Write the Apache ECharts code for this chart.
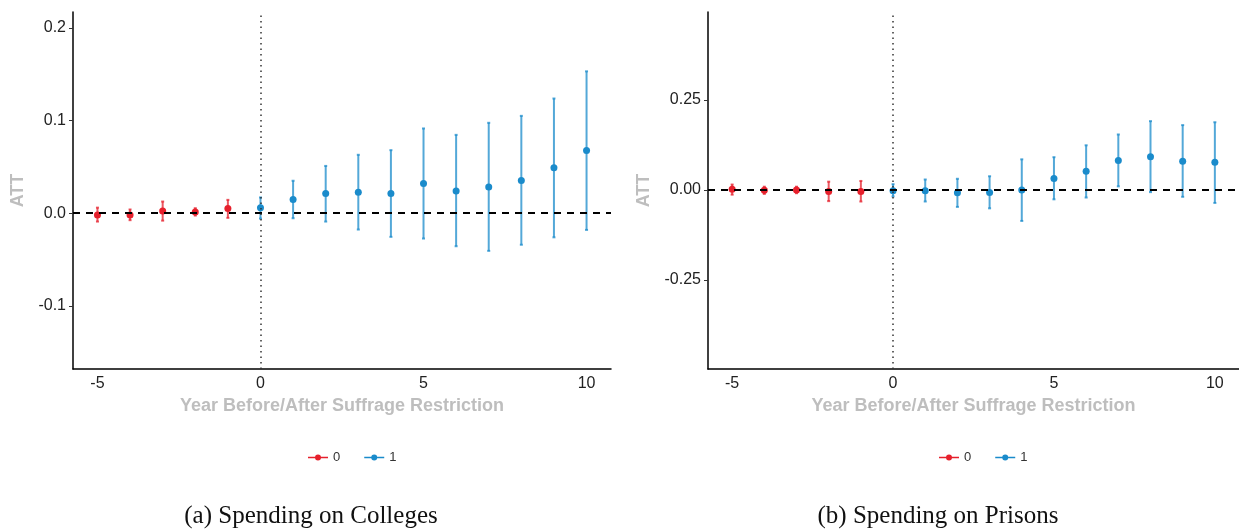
<!DOCTYPE html>
<html>
<head>
<meta charset="utf-8">
<script src="https://cdn.jsdelivr.net/npm/echarts@6/dist/echarts.min.js"></script>
<style>
  html, body { margin: 0; padding: 0; background: #fff; }
  #chart { width: 1239px; height: 529px; }
</style>
</head>
<body>
<div id="chart"></div>
<script>
// event-study estimates
const years = [-5, -4, -3, -2, -1, 0, 1, 2, 3, 4, 5, 6, 7, 8, 9, 10];
const xTicks = [-5, 0, 5, 10];

const collegesEst = [-0.002, -0.002, 0.0025, 0.0014, 0.005, 0.006, 0.0147, 0.0212, 0.0227, 0.0212, 0.032, 0.024, 0.0284, 0.0353, 0.049, 0.0676];
const collegesLo = [-0.009, -0.0075, -0.008, -0.0025, -0.005, -0.0058, -0.0054, -0.009, -0.0176, -0.0255, -0.0273, -0.0356, -0.0406, -0.034, -0.026, -0.018];
const collegesHi = [0.006, 0.004, 0.0126, 0.0054, 0.0144, 0.017, 0.035, 0.051, 0.063, 0.068, 0.0914, 0.0845, 0.0975, 0.105, 0.1237, 0.153];
const collegesTicks = [-0.1, 0, 0.1, 0.2];

const prisonsEst = [0.002, -0.001, 0, -0.004, -0.004, -0.002, -0.002, -0.008, -0.007, 0, 0.032, 0.052, 0.082, 0.092, 0.08, 0.077];
const prisonsLo = [-0.013, -0.011, -0.009, -0.031, -0.032, -0.018, -0.032, -0.047, -0.051, -0.086, -0.026, -0.021, 0.01, -0.006, -0.019, -0.036];
const prisonsHi = [0.015, 0.009, 0.009, 0.023, 0.025, 0.016, 0.029, 0.031, 0.038, 0.085, 0.091, 0.124, 0.154, 0.191, 0.18, 0.188];
const prisonsTicks = [-0.25, 0, 0.25];

const RED = "#E6202C";
const BLUE = "#1A8BCB";
const FONT = "Liberation Sans";

let chart = echarts.init(document.getElementById("chart"));

function pts(est, pre) {
  let out = [];
  years.forEach((y, i) => {
    if ((y < 0) === pre) out.push([y, est[i]]);
  });
  return out;
}
function bars(lo, hi, pre) {
  let out = [];
  years.forEach((y, i) => {
    if ((y < 0) === pre) out.push([y, lo[i], hi[i]]);
  });
  return out;
}

function renderErr(params, api) {
  let x = api.value(0);
  let top = api.coord([x, api.value(2)]);
  let bot = api.coord([x, api.value(1)]);
  let st = { stroke: api.visual("color"), lineWidth: 2, opacity: 0.75 };
  return {
    type: "group",
    children: [
      { type: "line", shape: { x1: top[0], y1: top[1], x2: bot[0], y2: bot[1] }, style: st },
      { type: "line", shape: { x1: top[0] - 1.5, y1: top[1], x2: top[0] + 1.5, y2: top[1] }, style: st },
      { type: "line", shape: { x1: bot[0] - 1.5, y1: bot[1], x2: bot[0] + 1.5, y2: bot[1] }, style: st },
    ],
  };
}

function panelSeries(idx, est, lo, hi) {
  let refLines = {
    silent: true,
    symbol: "none",
    label: { show: false },
    data: [
      { yAxis: 0, lineStyle: { color: "#000", width: 2, type: [7, 6] } },
      { xAxis: 0, lineStyle: { color: "#333", width: 1.5, type: [1.5, 4] } },
    ],
  };
  return [
    { name: "0", type: "custom", xAxisIndex: idx, yAxisIndex: idx, renderItem: renderErr, itemStyle: { color: RED }, data: bars(lo, hi, true), z: 3 },
    { name: "1", type: "custom", xAxisIndex: idx, yAxisIndex: idx, renderItem: renderErr, itemStyle: { color: BLUE }, data: bars(lo, hi, false), z: 3 },
    { name: "0", type: "scatter", xAxisIndex: idx, yAxisIndex: idx, symbolSize: 7, itemStyle: { color: RED, opacity: 1 }, data: pts(est, true), z: 4, markLine: refLines },
    { name: "1", type: "scatter", xAxisIndex: idx, yAxisIndex: idx, symbolSize: 7, itemStyle: { color: BLUE, opacity: 1 }, data: pts(est, false), z: 4 },
  ];
}

function xAxisFor(idx) {
  return {
    type: "value",
    gridIndex: idx,
    min: -5.75,
    max: 10.75,
    splitLine: { show: false },
    axisLine: { onZero: false, lineStyle: { color: "#000", width: 1.5 } },
    axisTick: { show: false },
    axisLabel: { customValues: xTicks, color: "#222", fontSize: 16, fontFamily: FONT, margin: 7 },
    name: "Year Before/After Suffrage Restriction",
    nameLocation: "middle",
    nameGap: 28,
    nameTextStyle: { color: "#BEBEBE", fontSize: 18, fontWeight: "bold", fontFamily: FONT },
  };
}

function yAxisFor(idx, min, max, ticks, digits, gap) {
  return {
    type: "value",
    gridIndex: idx,
    min: min,
    max: max,
    splitLine: { show: false },
    axisLine: { show: true, onZero: false, lineStyle: { color: "#000", width: 1.5 } },
    axisTick: { show: true, customValues: ticks, length: 4, lineStyle: { color: "#333" } },
    axisLabel: {
      customValues: ticks,
      color: "#222",
      fontSize: 16,
      fontFamily: FONT,
      margin: 7,
      formatter: (v) => v.toFixed(digits),
    },
    name: "ATT",
    nameLocation: "middle",
    nameGap: gap,
    nameRotate: 90,
    nameTextStyle: { color: "#BEBEBE", fontSize: 18, fontWeight: "bold", fontFamily: FONT },
  };
}

const legendIcon = "path://M0,3.3 L20,3.3 L20,4.7 L0,4.7 Z M13,4 A3,3 0 1,1 7,4 A3,3 0 1,1 13,4 Z";
const legendText = { fontSize: 13, color: "#333", fontFamily: FONT };

let option = {
  animation: false,
  backgroundColor: "#fff",
  grid: [
    { left: 73, top: 12, width: 538, height: 357 },
    { left: 708, top: 12, width: 531, height: 357 },
  ],
  xAxis: [xAxisFor(0), xAxisFor(1)],
  yAxis: [
    yAxisFor(0, -0.168, 0.217, collegesTicks, 1, 46),
    yAxisFor(1, -0.497, 0.494, prisonsTicks, 2, 55),
  ],
  legend: [
    { data: ["0", "1"], left: 303, top: 446, icon: legendIcon, itemWidth: 20, itemHeight: 8, itemGap: 24, textStyle: legendText },
    { data: ["0", "1"], left: 934, top: 446, icon: legendIcon, itemWidth: 20, itemHeight: 8, itemGap: 24, textStyle: legendText },
  ],
  graphic: [
    { type: "text", x: 311, y: 516, style: { text: "(a) Spending on Colleges", font: "25px 'Liberation Serif'", fill: "#111", textAlign: "center", textVerticalAlign: "middle" } },
    { type: "text", x: 938, y: 516, style: { text: "(b) Spending on Prisons", font: "25px 'Liberation Serif'", fill: "#111", textAlign: "center", textVerticalAlign: "middle" } },
  ],
  series: [].concat(
    panelSeries(0, collegesEst, collegesLo, collegesHi),
    panelSeries(1, prisonsEst, prisonsLo, prisonsHi)
  ),
};

chart.setOption(option);
</script>
</body>
</html>
